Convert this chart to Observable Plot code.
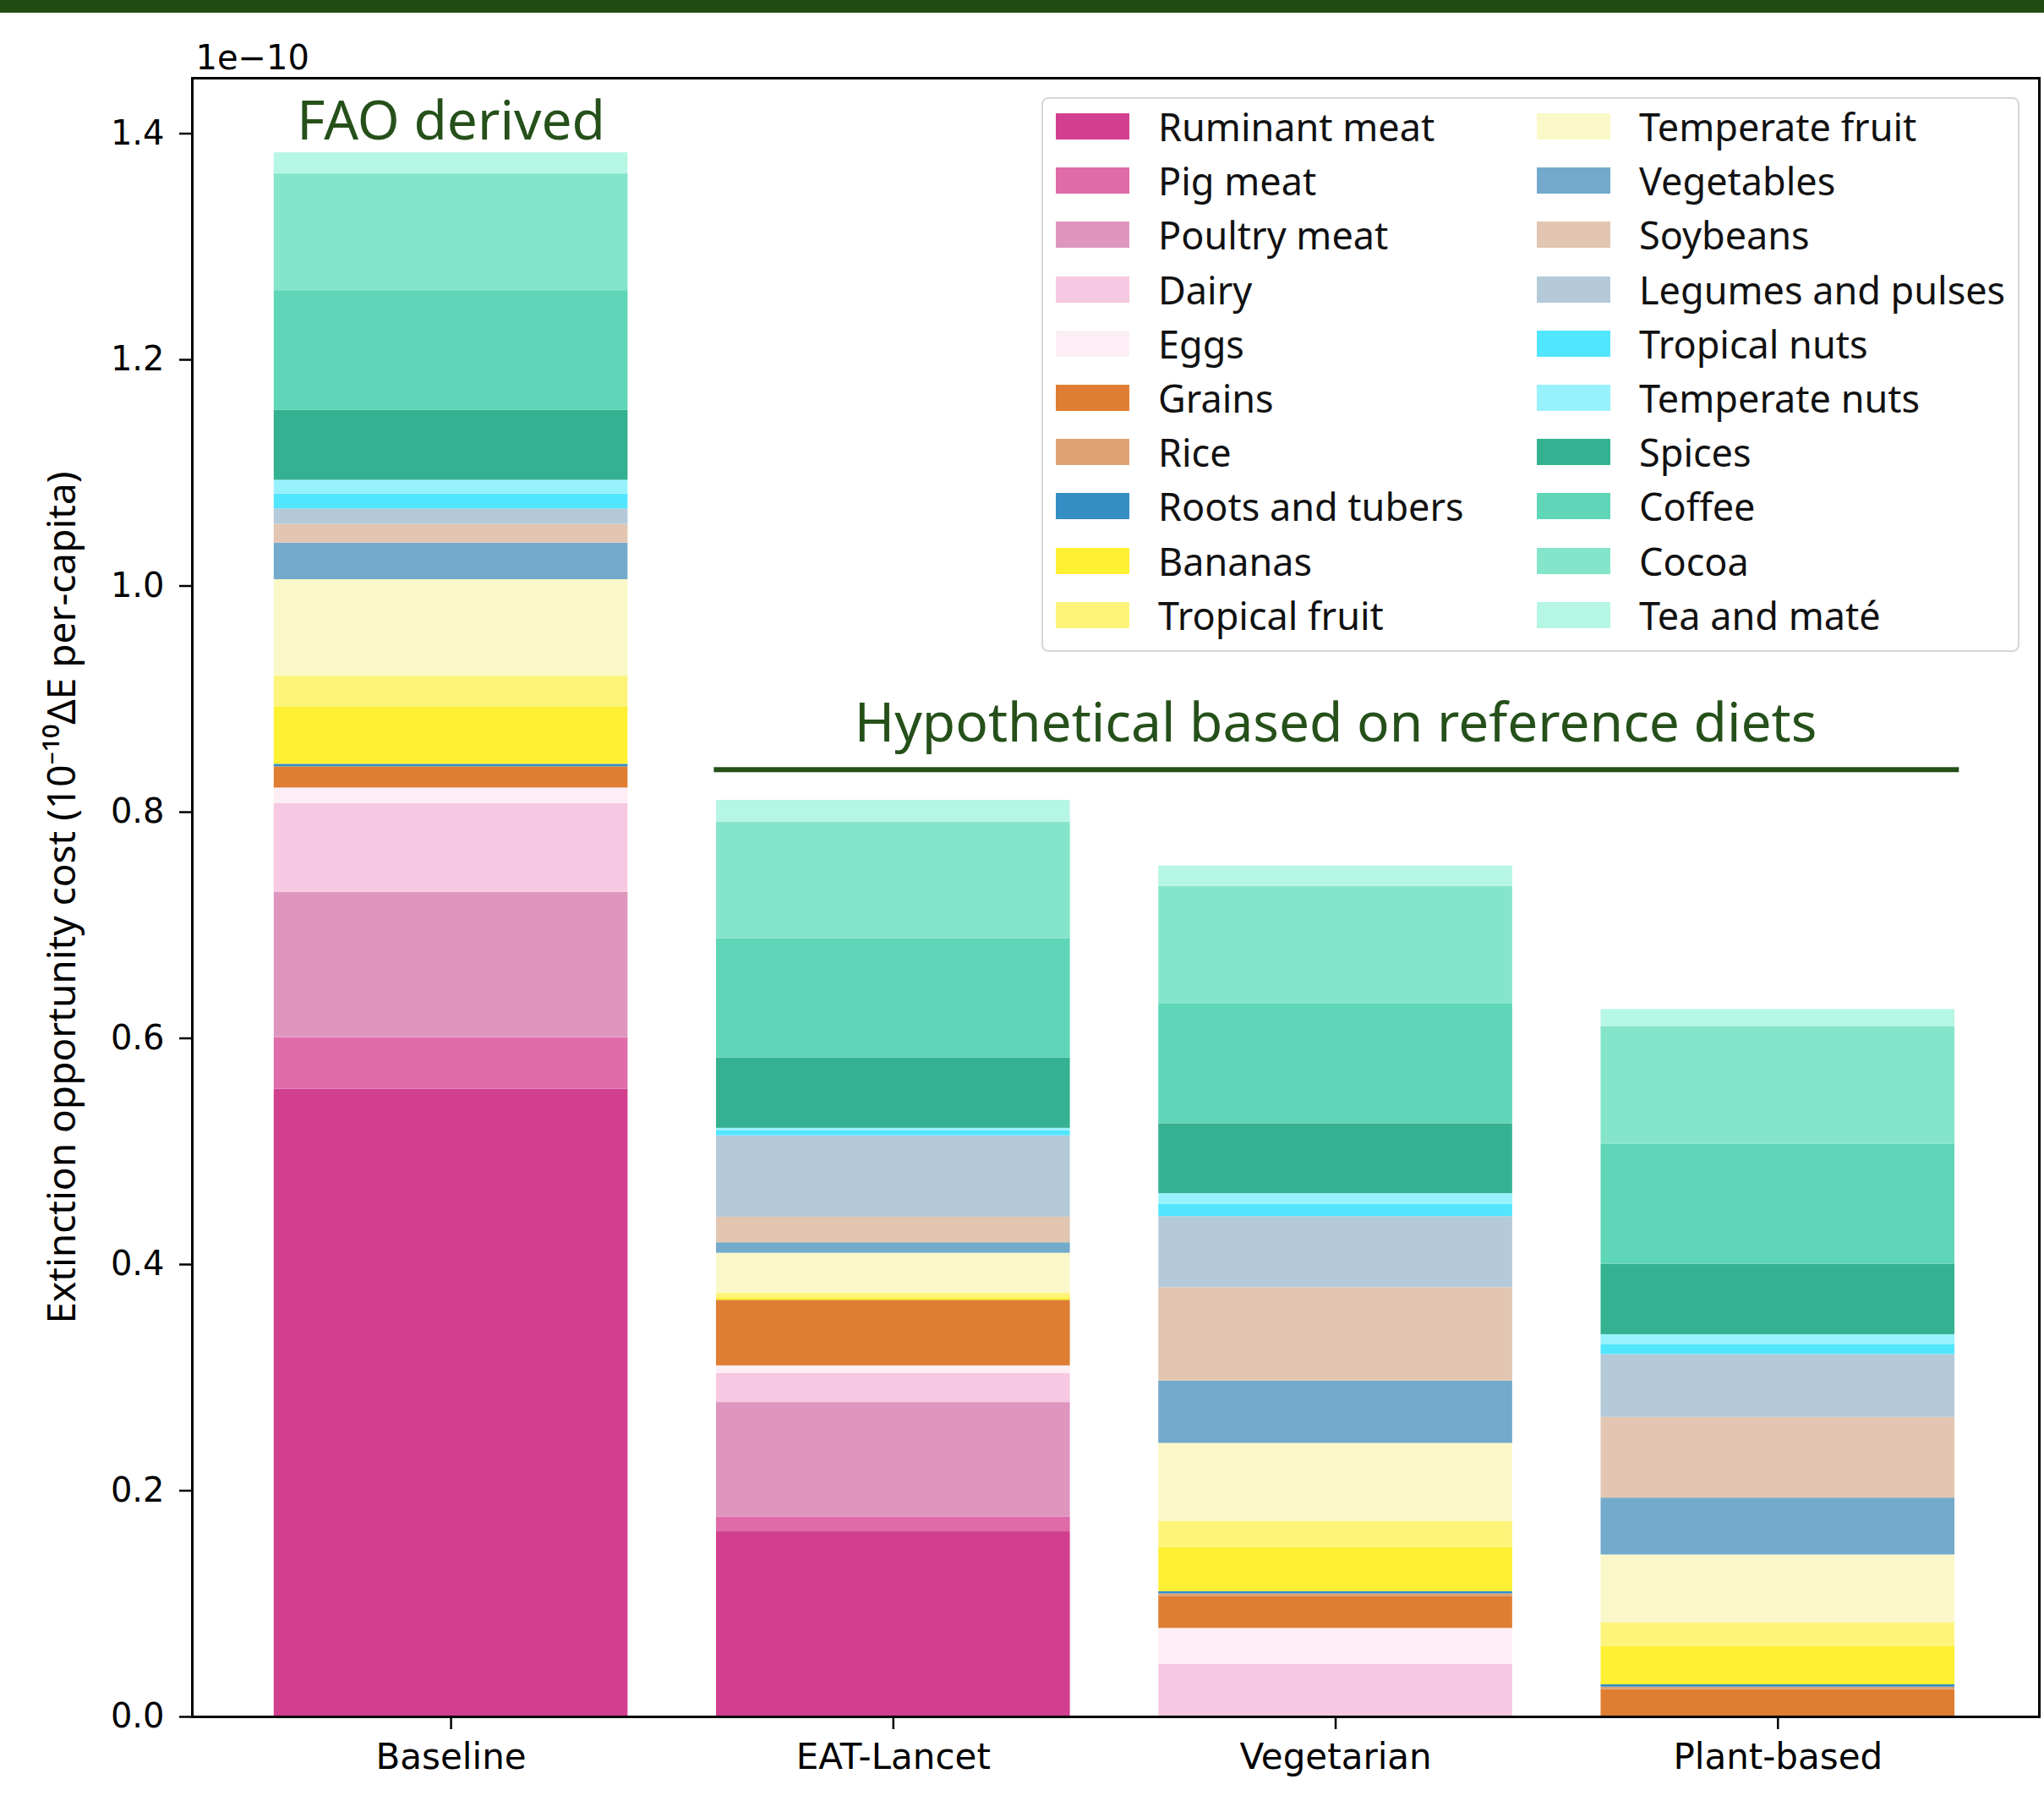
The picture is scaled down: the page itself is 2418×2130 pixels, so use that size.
<!DOCTYPE html>
<html>
<head>
<meta charset="utf-8">
<script src="https://cdn.jsdelivr.net/npm/d3@7"></script>
<script src="https://cdn.jsdelivr.net/npm/@observablehq/plot@0.6"></script>
<style>
  html, body { margin: 0; padding: 0; background: #fff; }
  #band { height: 15px; background: #234b14; }
  #wrap { position: relative; width: 2418px; }
  #legend {
    position: absolute; left: 1232px; top: 100px; width: 1153px; height: 652px;
    border: 2px solid #d6d6d6; border-radius: 8px; background: rgba(255,255,255,0.85);
    font-family: "Noto Sans", sans-serif; font-size: 45px; color: #111;
  }
  .entry { position: absolute; height: 54px; display: flex; align-items: center; white-space: nowrap; }
  .sw { width: 87px; height: 31px; margin-right: 34px; flex: none; }
</style>
</head>
<body>
<div id="band"></div>
<div id="wrap"></div>
<script>
// ---- data (values in units of 1e-10 ΔE per capita) ----
const diets = ["Baseline", "EAT-Lancet", "Vegetarian", "Plant-based"];
const foods = ["Ruminant meat", "Pig meat", "Poultry meat", "Dairy", "Eggs", "Grains", "Rice",
  "Roots and tubers", "Bananas", "Tropical fruit", "Temperate fruit", "Vegetables", "Soybeans",
  "Legumes and pulses", "Tropical nuts", "Temperate nuts", "Spices", "Coffee", "Cocoa", "Tea and maté"];
const foodColors = ["#d33f8f", "#df6ba9", "#df96be", "#f7c8e2", "#fdeef5", "#df7e33", "#dfa374",
  "#348ec4", "#fef032", "#fef47a", "#faf8c8", "#73aacb", "#e2c6b1",
  "#b4cad9", "#52e6fe", "#98f2fe", "#34b190", "#5ed6b7", "#84e5ca", "#b6f6e4"];
const baseline   = [0.555, 0.0456, 0.1285, 0.0786, 0.0137, 0.0187, 0.0, 0.0023, 0.0508, 0.0271, 0.0853, 0.0324, 0.0165, 0.0137, 0.0131, 0.0122, 0.0619, 0.1058, 0.1032, 0.0187];
const eatLancet  = [0.1637, 0.0132, 0.1011, 0.0258, 0.0066, 0.058, 0.0, 0.0, 0.0022, 0.0043, 0.0351, 0.0093, 0.0226, 0.0720, 0.0044, 0.0022, 0.0621, 0.1054, 0.1033, 0.0192];
const vegetarian = [0, 0, 0, 0.0464, 0.0319, 0.0284, 0.0021, 0.0020, 0.0387, 0.0232, 0.0692, 0.0552, 0.0825, 0.0629, 0.0109, 0.0093, 0.0618, 0.1058, 0.1042, 0.0180];
const plantBased = [0, 0, 0, 0, 0, 0.0241, 0.0022, 0.0021, 0.0340, 0.0206, 0.0602, 0.0503, 0.0714, 0.0555, 0.0086, 0.0090, 0.0624, 0.1062, 0.1035, 0.0155];
const yTicks = [0, 0.2, 0.4, 0.6, 0.8, 1.0, 1.2, 1.4];
const yLabel = "Extinction opportunity cost (10⁻¹⁰ΔE per-capita)";
const exponentLabel = "1e−10";
const faoLabel = "FAO derived";
const hypoLabel = "Hypothetical based on reference diets";

// ---- build table ----
const series = [baseline, eatLancet, vegetarian, plantBased];
const rows = diets.flatMap((diet, i) => foods.map((food, j) => ({diet, i, food, value: series[i][j]})));
const green = "#25501a";

const chart = Plot.plot({
  width: 2418,
  height: 2115,
  marginTop: 77,
  marginBottom: 100,
  marginLeft: 227,
  marginRight: 6,
  style: {fontFamily: "DejaVu Sans", fontSize: "40px", color: "black", background: "transparent"},
  x: {type: "linear", domain: [-0.585, 3.591]},
  y: {domain: [0, 1.449]},
  color: {domain: foods, range: foodColors},
  marks: [
    Plot.rectY(rows, {x1: d => d.i - 0.4, x2: d => d.i + 0.4, y: "value", fill: "food"}),
    Plot.axisY({ticks: yTicks, tickFormat: d => d.toFixed(1), tickSize: 15, tickPadding: 18, strokeWidth: 2.5, label: null, fontSize: 40}),
    Plot.axisX({ticks: [0, 1, 2, 3], tickFormat: i => diets[i], tickSize: 15, tickPadding: 17, strokeWidth: 2.5, label: null, fontSize: 42}),
    Plot.frame({stroke: "black", strokeWidth: 3}),
    Plot.text([yLabel], {frameAnchor: "left", textAnchor: "middle", rotate: -90, dx: -153, fontFamily: "Noto Sans", fontSize: 46, fill: "black"}),
    Plot.text([exponentLabel], {frameAnchor: "top-left", dx: 4, dy: -39, textAnchor: "start", fontSize: 40, fill: "black"}),
    Plot.text([faoLabel], {x: 0, y: 1.41, fontFamily: "Noto Sans", fontSize: 64, fill: green}),
    Plot.text([hypoLabel], {x: 2, y: 0.878, fontFamily: "Noto Sans", fontSize: 64, fill: green}),
    Plot.ruleY([0.8375], {x1: 0.595, x2: 3.41, stroke: green, strokeWidth: 6})
  ]
});
const wrap = document.getElementById("wrap");
wrap.appendChild(chart);

// ---- legend (two columns of ten) ----
const legend = document.createElement("div");
legend.id = "legend";
foods.forEach((food, k) => {
  const col = Math.floor(k / 10), row = k % 10;
  const e = document.createElement("div");
  e.className = "entry";
  e.style.left = (col === 0 ? 15 : 584) + "px";
  e.style.top = (34.4 + 64.2 * row - 27 - 2) + "px";
  const sw = document.createElement("div");
  sw.className = "sw";
  sw.style.background = foodColors[k];
  const t = document.createElement("span");
  t.textContent = food;
  e.appendChild(sw);
  e.appendChild(t);
  legend.appendChild(e);
});
wrap.appendChild(legend);
</script>
</body>
</html>
